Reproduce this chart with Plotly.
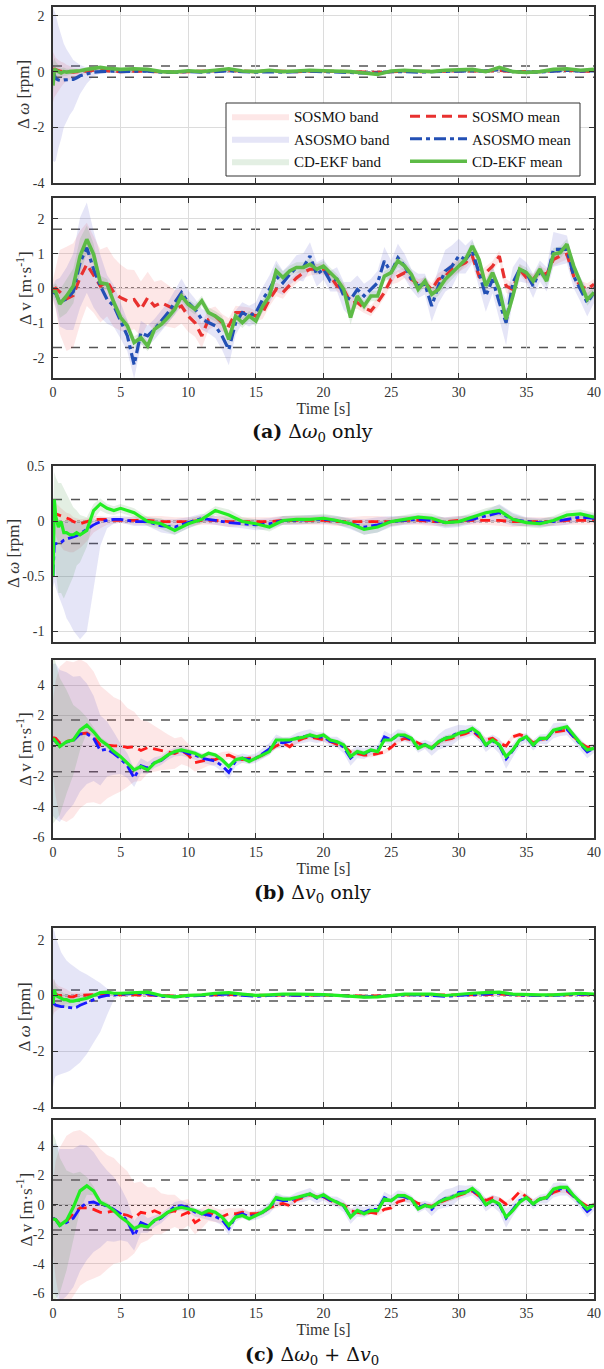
import plotly.graph_objects as go

# ------------------------------------------------------------------ data
# time grids [s]
TIME_W = [0, 0.1, 0.2, 0.4, 0.6, 0.8, 1, 1.25, 1.5, 1.75, 2, 2.5, 3, 3.5, 4, 4.5, 5,
          6, 7, 8, 9, 10, 11, 12, 13, 14, 15, 16, 17, 18, 19, 20, 21, 22, 23, 24, 25,
          26, 27, 28, 29, 30, 31, 32, 33, 34, 35, 36, 37, 38, 39, 40]
TIME_V = [0, 0.2, 0.5, 1, 1.5, 2, 2.5, 3, 3.5, 4,
          4.5, 5, 5.5, 6, 6.5, 7, 7.5, 8, 8.5, 9,
          9.5, 10, 10.5, 11, 11.5, 12, 12.5, 13, 13.5, 14,
          14.5, 15, 15.5, 16, 16.5, 17, 17.5, 18, 18.5, 19,
          19.5, 20, 20.5, 21, 21.5, 22, 22.5, 23, 23.5, 24,
          24.5, 25, 25.5, 26, 26.5, 27, 27.5, 28, 28.5, 29,
          29.5, 30, 30.5, 31, 31.5, 32, 32.5, 33, 33.5, 34,
          34.5, 35, 35.5, 36, 36.5, 37, 37.5, 38, 38.5, 39,
          39.5, 40]

METHODS = ["SOSMO", "ASOSMO", "CD-EKF"]
W_BOUND = 0.2      # dashed bound, speed error [rpm]
V_BOUND = 1.7      # dashed bound, velocity error [m/s]

# ---- (a) delta omega0 only : speed error means
A_W_SOSMO = [0.10, 0.08, 0.05, 0.02, 0.00, 0.02, 0.00, 0.00, -0.02, 0.00, 0.00, 0.02, 0.05, 0.05, 0.03, 0.00, 0.00,
             0.02, 0.02, 0.00, -0.02, 0.00, 0.00, 0.02, 0.05, 0.02, 0.00, 0.02, 0.00, 0.00, 0.02, 0.02,
             0.00, 0.00, -0.02, -0.03, 0.00, 0.02, 0.00, 0.00, 0.02, 0.03, 0.03, 0.02, 0.05, 0.00, 0.00,
             0.00, 0.03, 0.05, 0.02, 0.02]
A_W_ASOSMO = [0.00, -0.15, -0.25, -0.30, -0.32, -0.30, -0.30, -0.30, -0.28, -0.22, -0.15, -0.08, -0.02, 0.00, 0.02, 0.02, 0.00,
              0.02, 0.02, -0.02, -0.03, 0.00, -0.02, 0.00, 0.03, 0.00, -0.02, 0.00, -0.02, 0.00, 0.02, 0.00,
              -0.02, -0.03, -0.05, -0.05, 0.00, 0.00, -0.02, 0.00, 0.00, 0.02, 0.03, 0.02, 0.08, 0.00, -0.02,
              -0.02, 0.02, 0.05, 0.02, 0.03]
A_W_EKF = [-0.50, 0.10, 0.05, 0.00, -0.05, 0.00, -0.02, 0.00, 0.00, 0.02, 0.03, 0.08, 0.12, 0.15, 0.12, 0.10, 0.08,
           0.10, 0.08, 0.00, -0.02, 0.03, 0.00, 0.05, 0.10, 0.02, 0.00, 0.05, 0.00, 0.02, 0.05, 0.03,
           0.02, 0.00, -0.05, -0.10, 0.02, 0.05, 0.02, 0.00, 0.05, 0.05, 0.08, 0.00, 0.15, 0.00, -0.03,
           0.00, 0.08, 0.10, 0.05, 0.08]

# ---- (b) delta v0 only : speed error means
B_W_SOSMO = [0.06, 0.08, 0.07, 0.06, 0.05, 0.04, 0.03, 0.02, 0.00, -0.01, -0.02, 0.00, 0.02, 0.02, 0.02, 0.01, 0.01,
             0.01, 0.01, 0.00, 0.00, 0.00, 0.01, 0.01, 0.00, 0.00, 0.00, 0.00, 0.01, 0.01, 0.01, 0.01,
             0.00, 0.00, 0.00, 0.00, 0.00, 0.01, 0.01, 0.00, 0.00, 0.01, 0.01, 0.01, 0.01, 0.00, 0.00,
             0.00, 0.00, 0.01, 0.01, 0.01]
B_W_ASOSMO = [-0.50, -0.20, -0.20, -0.20, -0.19, -0.17, -0.16, -0.15, -0.14, -0.13, -0.11, -0.07, -0.03, 0.00, 0.01, 0.02, 0.02,
              0.00, 0.00, -0.04, -0.05, -0.01, 0.03, 0.01, -0.01, -0.02, -0.03, -0.02, 0.01, 0.01, 0.02, 0.02,
              0.01, -0.02, -0.05, -0.03, 0.00, 0.01, 0.02, 0.01, -0.01, 0.00, 0.02, 0.05, 0.08, 0.02, 0.00,
              -0.01, 0.00, 0.02, 0.04, 0.03]
B_W_EKF = [-0.50, 0.20, 0.05, -0.05, 0.00, -0.10, -0.10, -0.12, -0.12, -0.10, -0.12, -0.08, 0.10, 0.16, 0.12, 0.10, 0.12,
           0.08, 0.00, -0.02, -0.08, -0.02, 0.02, 0.10, 0.06, 0.00, -0.02, -0.05, 0.01, 0.02, 0.02, 0.03,
           0.01, -0.02, -0.07, -0.05, 0.00, 0.02, 0.04, 0.03, -0.01, 0.00, 0.04, 0.08, 0.10, 0.02, -0.01,
           -0.02, 0.01, 0.06, 0.07, 0.04]

# ---- (c) both : speed error means
C_W_SOSMO = [0.10, 0.10, 0.05, 0.00, 0.00, 0.02, 0.00, -0.05, -0.05, 0.00, 0.00, 0.02, 0.05, 0.05, 0.05, 0.03, 0.02,
             0.02, 0.02, 0.00, -0.02, 0.00, 0.00, 0.02, 0.03, 0.02, 0.00, 0.00, 0.02, 0.00, 0.02, 0.02,
             0.00, 0.00, -0.02, -0.02, 0.00, 0.02, 0.02, 0.00, 0.00, 0.02, 0.03, 0.02, 0.05, 0.02, 0.00,
             0.00, 0.02, 0.03, 0.02, 0.02]
C_W_ASOSMO = [-0.30, -0.30, -0.35, -0.38, -0.40, -0.40, -0.42, -0.45, -0.45, -0.42, -0.35, -0.25, -0.15, -0.05, 0.00, 0.02, 0.05,
              0.08, 0.06, -0.03, -0.05, -0.02, 0.00, 0.04, 0.05, 0.00, -0.03, 0.00, 0.02, 0.00, 0.02, 0.02,
              0.00, -0.03, -0.05, -0.03, 0.00, 0.02, 0.02, 0.00, -0.03, 0.00, 0.03, 0.05, 0.08, 0.03, 0.00,
              0.00, 0.00, 0.03, 0.05, 0.03]
C_W_EKF = [-0.30, 0.20, 0.00, -0.05, -0.10, -0.15, -0.15, -0.20, -0.20, -0.18, -0.15, -0.10, 0.00, 0.10, 0.12, 0.08, 0.08,
           0.10, 0.12, 0.00, -0.05, 0.00, 0.02, 0.08, 0.10, 0.05, 0.00, 0.02, 0.05, 0.05, 0.05, 0.03,
           0.00, -0.03, -0.06, -0.05, 0.00, 0.05, 0.05, 0.05, 0.00, 0.05, 0.08, 0.10, 0.12, 0.05, 0.03,
           0.02, 0.02, 0.05, 0.08, 0.05]

# ---- speed error band extents (above / below mean), transient part t<=5 s
A_W_SOSMO_UP0 = [0.60, 0.50, 0.45, 0.40, 0.35, 0.30, 0.25, 0.20, 0.15, 0.12, 0.10, 0.08, 0.06, 0.05, 0.04, 0.04, 0.04]
A_W_SOSMO_DN0 = [1.20, 1.00, 0.90, 0.70, 0.55, 0.45, 0.35, 0.28, 0.22, 0.18, 0.15, 0.10, 0.07, 0.05, 0.04, 0.04, 0.04]
A_W_ASOSMO_UP0 = [2.30, 2.35, 2.30, 1.95, 1.60, 1.30, 1.10, 0.90, 0.70, 0.55, 0.40, 0.22, 0.12, 0.08, 0.05, 0.05, 0.04]
A_W_ASOSMO_DN0 = [3.20, 3.10, 2.95, 2.45, 2.10, 1.70, 1.50, 1.25, 1.10, 0.90, 0.65, 0.35, 0.15, 0.08, 0.05, 0.05, 0.04]
A_W_EKF_UP0 = [0.80, 0.40, 0.30, 0.22, 0.18, 0.15, 0.12, 0.10, 0.08, 0.07, 0.06, 0.05, 0.05, 0.04, 0.04, 0.04, 0.04]
A_W_EKF_DN0 = [0.30, 0.35, 0.30, 0.25, 0.20, 0.16, 0.13, 0.10, 0.08, 0.07, 0.06, 0.05, 0.05, 0.04, 0.04, 0.04, 0.04]

B_W_SOSMO_UP0 = [0.10, 0.10, 0.10, 0.08, 0.07, 0.06, 0.05, 0.05, 0.04, 0.04, 0.04, 0.03, 0.03, 0.03, 0.02, 0.02, 0.02]
B_W_SOSMO_DN0 = [0.10, 0.15, 0.20, 0.25, 0.28, 0.30, 0.30, 0.30, 0.28, 0.25, 0.22, 0.18, 0.12, 0.08, 0.05, 0.03, 0.02]
B_W_ASOSMO_UP0 = [0.55, 0.25, 0.22, 0.20, 0.19, 0.17, 0.16, 0.15, 0.14, 0.13, 0.11, 0.08, 0.05, 0.04, 0.03, 0.03, 0.03]
B_W_ASOSMO_DN0 = [0.10, 0.35, 0.40, 0.47, 0.55, 0.63, 0.72, 0.78, 0.85, 0.90, 0.96, 0.93, 0.60, 0.22, 0.07, 0.04, 0.03]
B_W_EKF_UP0 = [0.60, 0.25, 0.35, 0.40, 0.35, 0.40, 0.35, 0.30, 0.25, 0.20, 0.18, 0.12, 0.06, 0.05, 0.04, 0.04, 0.04]
B_W_EKF_DN0 = [0.10, 0.50, 0.50, 0.60, 0.65, 0.60, 0.55, 0.45, 0.38, 0.30, 0.25, 0.15, 0.08, 0.06, 0.05, 0.04, 0.04]

C_W_SOSMO_UP0 = [0.50, 0.45, 0.40, 0.35, 0.30, 0.25, 0.22, 0.18, 0.15, 0.12, 0.10, 0.08, 0.06, 0.05, 0.04, 0.04, 0.04]
C_W_SOSMO_DN0 = [0.80, 0.70, 0.60, 0.50, 0.42, 0.35, 0.30, 0.25, 0.20, 0.16, 0.13, 0.10, 0.07, 0.05, 0.04, 0.04, 0.04]
C_W_ASOSMO_UP0 = [2.70, 2.60, 2.45, 2.18, 1.95, 1.80, 1.67, 1.60, 1.50, 1.37, 1.23, 1.00, 0.75, 0.50, 0.25, 0.06, 0.04]
C_W_ASOSMO_DN0 = [3.00, 2.70, 2.55, 2.47, 2.40, 2.38, 2.33, 2.25, 2.15, 2.08, 2.05, 1.85, 1.55, 1.25, 0.70, 0.17, 0.04]
C_W_EKF_UP0 = [0.60, 0.40, 0.35, 0.30, 0.25, 0.22, 0.20, 0.18, 0.15, 0.12, 0.10, 0.08, 0.06, 0.05, 0.04, 0.04, 0.04]
C_W_EKF_DN0 = [0.50, 0.60, 0.45, 0.40, 0.35, 0.30, 0.28, 0.25, 0.22, 0.18, 0.15, 0.10, 0.07, 0.05, 0.04, 0.04, 0.04]

# steady part t = 6..40 s
W_TAIL = [0.04, 0.04, 0.05, 0.04, 0.04, 0.04, 0.04, 0.05, 0.04, 0.04, 0.04, 0.04, 0.04, 0.04, 0.04, 0.04, 0.04, 0.05,
          0.05, 0.04, 0.04, 0.04, 0.04, 0.04, 0.04, 0.04, 0.04, 0.05, 0.05, 0.04, 0.04, 0.04, 0.04, 0.04, 0.04]
B_W_ASOSMO_TAIL = [0.04, 0.04, 0.06, 0.07, 0.05, 0.04, 0.04, 0.04, 0.04, 0.05, 0.05, 0.04, 0.04, 0.04, 0.04, 0.04, 0.05,
                   0.07, 0.07, 0.05, 0.04, 0.04, 0.04, 0.05, 0.05, 0.04, 0.05, 0.08, 0.06, 0.04, 0.04, 0.04, 0.05, 0.04, 0.04]

# ---- velocity error means [m/s]
A_V_SOSMO = [-0.05, 0.00, -0.10, -0.30, -0.20, 0.31, 0.69, 0.40, 0.07, 0.20,
             -0.12, -0.27, -0.36, -0.32, -0.60, -0.27, -0.51, -0.41, -0.51, -0.60,
             -0.51, -0.80, -0.99, -1.37, -0.89, -0.80, -0.99, -1.08, -0.70, -0.70,
             -0.70, -0.80, -0.70, -0.32, -0.03, -0.12, 0.10, 0.30, 0.45, 0.55,
             0.55, 0.55, 0.35, 0.07, -0.03, -0.41, -0.41, -0.56, -0.65, -0.41,
             -0.12, 0.26, 0.35, 0.45, 0.26, 0.12, 0.16, -0.03, 0.26, 0.35,
             0.55, 0.64, 0.74, 0.93, 0.35, 0.45, 0.64, 0.93, 0.07, -0.03,
             0.55, 0.31, 0.26, 0.50, 0.40, 0.83, 0.93, 0.98, 0.35, 0.07,
             -0.03, 0.12]
A_V_ASOSMO = [-0.10, -0.15, -0.40, -0.30, -0.10, 0.74, 1.17, 0.55, 0.07, -0.32,
              -0.51, -0.94, -1.37, -2.20, -1.28, -1.37, -1.18, -0.94, -0.70, -0.41,
              -0.12, -0.41, -0.60, -0.89, -0.99, -1.08, -1.37, -1.76, -0.99, -0.70,
              -0.80, -0.70, -0.32, -0.03, 0.35, 0.16, 0.40, 0.60, 0.60, 0.93,
              0.40, 0.55, 0.21, 0.26, -0.22, -0.32, -0.03, -0.22, -0.03, 0.16,
              0.79, 0.45, 0.88, 0.64, 0.26, 0.07, 0.12, -0.51, 0.07, 0.50,
              0.64, 0.93, 0.83, 1.07, 0.45, -0.22, 0.26, -0.41, -0.99, 0.16,
              0.55, 0.45, 0.07, 0.50, 0.26, 1.12, 1.12, 1.12, 0.35, -0.03,
              -0.41, -0.12]
A_V_EKF = [-0.08, -0.10, -0.45, -0.22, 0.07, 0.93, 1.41, 0.98, 0.16, 0.12,
           -0.41, -0.84, -1.08, -1.56, -1.42, -1.66, -1.18, -1.04, -0.84, -0.60,
           -0.22, -0.46, -0.60, -0.36, -0.70, -0.80, -0.94, -1.47, -0.80, -0.99,
           -0.80, -0.94, -0.51, -0.22, 0.50, 0.31, 0.50, 0.60, 0.60, 0.69,
           0.55, 0.64, 0.45, 0.26, -0.03, -0.84, -0.22, -0.51, -0.22, -0.22,
           0.35, 0.45, 0.79, 0.64, 0.40, -0.03, 0.21, -0.17, -0.03, 0.26,
           0.45, 0.64, 0.83, 1.22, 0.83, 0.07, 0.45, -0.03, -0.89, -0.22,
           0.55, 0.45, 0.21, 0.55, 0.21, 0.98, 1.03, 1.27, 0.64, 0.16,
           -0.32, -0.12]

B_V_SOSMO = [0.55, 0.50, 0.20, 0.30, 0.40, 0.80, 0.85, 0.60, 0.05, 0.05,
             0.00, 0.00, -0.10, -0.05, -0.30, -0.10, -0.20, -0.30, -0.40, -0.50,
             -0.30, -0.60, -1.10, -1.00, -0.90, -0.90, -0.70, -0.60, -0.80, -0.90,
             -0.80, -0.80, -0.60, -0.30, 0.00, 0.20, -0.05, 0.30, 0.50, 0.60,
             0.50, 0.45, 0.30, 0.10, 0.00, -0.40, -0.50, -0.60, -0.60, -0.50,
             -0.40, -0.10, 0.30, 0.50, 0.40, 0.20, 0.00, -0.10, 0.20, 0.40,
             0.50, 0.70, 0.80, 1.00, 0.60, 0.40, 0.50, 0.20, 0.00, 0.60,
             0.75, 0.60, 0.20, 0.40, 0.50, 0.90, 1.00, 1.05, 0.60, 0.20,
             -0.10, 0.00]
B_V_ASOSMO = [0.40, 0.30, 0.00, 0.25, 0.35, 0.80, 0.80, 0.50, -0.30, -0.20,
              -0.50, -0.85, -1.30, -2.10, -1.30, -1.45, -1.10, -0.95, -0.60, -0.40,
              -0.30, -0.50, -0.60, -0.80, -0.90, -1.00, -1.30, -1.75, -1.00, -0.80,
              -0.90, -0.80, -0.50, -0.20, 0.30, 0.20, 0.30, 0.50, 0.60, 0.70,
              0.55, 0.60, 0.30, 0.25, -0.10, -0.80, -0.40, -0.50, -0.30, -0.30,
              0.60, 0.40, 0.70, 0.65, 0.40, -0.10, 0.10, -0.20, 0.25, 0.50,
              0.65, 0.90, 0.95, 1.05, 0.70, 0.05, 0.35, 0.00, -0.85, -0.30,
              0.35, 0.55, 0.05, 0.45, 0.45, 1.00, 1.10, 1.10, 0.60, 0.10,
              -0.40, -0.15]
B_V_EKF = [0.50, 0.30, -0.04, 0.28, 0.39, 1.04, 1.37, 0.93, 0.39, 0.07,
           -0.37, -0.70, -1.13, -1.57, -1.35, -1.57, -1.13, -0.91, -0.59, -0.37,
           -0.26, -0.37, -0.48, -0.70, -0.48, -0.59, -0.91, -1.35, -0.91, -0.80,
           -1.02, -0.80, -0.59, -0.37, 0.39, 0.39, 0.39, 0.50, 0.57, 0.72,
           0.61, 0.72, 0.39, 0.28, 0.07, -0.70, -0.37, -0.48, -0.26, -0.37,
           0.39, 0.39, 0.72, 0.72, 0.50, -0.15, 0.07, -0.15, 0.28, 0.50,
           0.61, 0.83, 0.93, 1.15, 0.83, 0.07, 0.39, 0.07, -0.70, -0.26,
           0.39, 0.61, 0.07, 0.50, 0.50, 1.04, 1.15, 1.26, 0.72, 0.17,
           -0.26, -0.15]

C_V_SOSMO = [-0.90, -1.00, -1.30, -1.10, -0.60, -0.20, -0.20, -0.30, -0.50, -0.50,
             -0.40, -0.60, -0.70, -0.90, -0.50, -0.60, -0.40, -0.60, -0.50, -0.40,
             -0.70, -0.50, -1.20, -0.90, -0.50, -0.70, -0.80, -0.60, -0.60, -0.50,
             -0.60, -0.60, -0.50, -0.20, 0.00, 0.10, -0.05, 0.35, 0.50, 0.70,
             0.55, 0.55, 0.30, 0.10, 0.00, -0.40, -0.50, -0.60, -0.50, -0.60,
             -0.30, -0.20, 0.20, 0.35, 0.35, 0.10, 0.00, -0.10, 0.15, 0.35,
             0.50, 0.65, 0.80, 0.95, 0.60, 0.30, 0.50, 0.40, 0.05, 0.40,
             0.90, 0.55, 0.20, 0.40, 0.50, 0.85, 1.00, 0.95, 0.55, 0.20,
             -0.10, 0.00]
C_V_ASOSMO = [-0.90, -1.00, -1.40, -1.20, -0.90, -0.20, 0.15, 0.20, 0.00, -0.05,
              -0.30, -0.60, -1.10, -2.10, -1.20, -1.40, -1.10, -0.90, -0.50, -0.10,
              -0.05, -0.20, -0.50, -0.60, -0.70, -0.80, -1.00, -1.60, -0.80, -0.60,
              -0.80, -0.70, -0.50, -0.20, 0.40, 0.30, 0.30, 0.50, 0.60, 0.75,
              0.45, 0.60, 0.30, 0.20, -0.10, -0.80, -0.40, -0.50, -0.30, -0.30,
              0.50, 0.30, 0.60, 0.55, 0.35, -0.20, 0.00, -0.30, 0.20, 0.45,
              0.55, 0.85, 0.90, 1.00, 0.65, 0.00, 0.30, 0.00, -0.90, -0.30,
              0.30, 0.50, 0.05, 0.40, 0.45, 1.00, 1.10, 1.05, 0.60, 0.10,
              -0.45, -0.10]
C_V_EKF = [-0.94, -1.00, -1.39, -1.05, -0.16, 0.96, 1.30, 0.96, 0.18, -0.04,
           -0.38, -0.83, -1.16, -1.61, -1.39, -1.50, -1.05, -0.83, -0.49, -0.27,
           -0.16, -0.27, -0.38, -0.60, -0.38, -0.49, -0.83, -1.39, -0.83, -0.72,
           -0.94, -0.72, -0.49, -0.16, 0.51, 0.40, 0.40, 0.51, 0.63, 0.74,
           0.51, 0.69, 0.40, 0.18, -0.04, -0.83, -0.38, -0.60, -0.38, -0.38,
           0.40, 0.29, 0.63, 0.63, 0.40, -0.27, -0.04, -0.16, 0.18, 0.40,
           0.51, 0.74, 0.85, 1.12, 0.74, 0.02, 0.29, 0.07, -0.83, -0.38,
           0.18, 0.51, 0.07, 0.40, 0.51, 1.07, 1.19, 1.19, 0.63, 0.18,
           -0.27, 0.00]

# ---- velocity band half-widths: first part t = 0..14 s
A_V_SOSMO_HW0 = [0.30, 0.60, 1.20, 1.50, 1.50, 1.35, 1.20, 1.10, 1.05, 1.00,
                 1.00, 0.95, 0.90, 0.85, 0.80, 0.75, 0.70, 0.65, 0.60, 0.55,
                 0.50, 0.45, 0.40, 0.35, 0.30, 0.28, 0.25, 0.22, 0.20, 0.18]
A_V_ASOSMO_HW0 = [0.20, 0.40, 0.70, 0.90, 1.10, 1.30, 1.30, 1.10, 0.90, 0.70,
                  0.60, 0.50, 0.45, 0.40, 0.35, 0.30, 0.30, 0.30, 0.30, 0.35,
                  0.40, 0.35, 0.30, 0.30, 0.30, 0.35, 0.40, 0.45, 0.35, 0.30]
A_V_EKF_HW0 = [0.15, 0.25, 0.40, 0.50, 0.50, 0.50, 0.40, 0.30, 0.20, 0.15,
               0.15, 0.15, 0.15, 0.18, 0.15, 0.15, 0.15, 0.15, 0.15, 0.15,
               0.15, 0.15, 0.15, 0.15, 0.15, 0.15, 0.15, 0.18, 0.15, 0.15]
B_V_SOSMO_HW0 = [2.50, 3.80, 5.00, 5.30, 5.10, 4.90, 4.60, 4.30, 3.90, 3.50,
                 3.20, 3.00, 2.60, 2.30, 2.00, 1.70, 1.50, 1.30, 1.15, 1.00,
                 0.90, 0.75, 0.60, 0.50, 0.40, 0.35, 0.30, 0.25, 0.25, 0.20]
B_V_ASOSMO_HW0 = [5.00, 5.10, 5.00, 4.60, 4.20, 3.80, 3.30, 2.80, 2.30, 1.80,
                  1.40, 1.00, 0.80, 0.60, 0.50, 0.40, 0.35, 0.30, 0.30, 0.30,
                  0.35, 0.30, 0.30, 0.30, 0.30, 0.35, 0.40, 0.45, 0.35, 0.30]
B_V_EKF_HW0 = [5.60, 5.20, 4.50, 3.40, 2.30, 1.30, 0.50, 0.30, 0.20, 0.20,
               0.18, 0.15, 0.15, 0.18, 0.15, 0.15, 0.15, 0.15, 0.15, 0.15,
               0.15, 0.15, 0.15, 0.15, 0.15, 0.15, 0.15, 0.18, 0.15, 0.15]
C_V_SOSMO_HW0 = [2.50, 4.00, 5.20, 5.80, 5.60, 5.30, 5.00, 4.70, 4.30, 3.90,
                 3.60, 3.30, 3.00, 2.40, 2.10, 1.80, 1.60, 1.40, 1.20, 1.10,
                 1.00, 0.90, 0.80, 0.70, 0.60, 0.50, 0.45, 0.40, 0.35, 0.30]
C_V_ASOSMO_HW0 = [5.00, 5.20, 5.20, 5.00, 4.70, 4.30, 3.90, 3.40, 2.90, 2.40,
                  2.20, 1.80, 1.40, 1.00, 0.70, 0.50, 0.40, 0.35, 0.30, 0.30,
                  0.35, 0.30, 0.30, 0.30, 0.30, 0.35, 0.40, 0.45, 0.35, 0.30]
C_V_EKF_HW0 = [5.80, 5.40, 4.60, 3.40, 2.30, 1.30, 0.60, 0.30, 0.20, 0.20,
               0.18, 0.15, 0.15, 0.18, 0.15, 0.15, 0.15, 0.15, 0.15, 0.15,
               0.15, 0.15, 0.15, 0.15, 0.15, 0.15, 0.15, 0.18, 0.15, 0.15]
# second part t = 14.5..40 s
V_TAIL_THIN = [0.15, 0.15, 0.18, 0.20, 0.20, 0.18, 0.15, 0.15, 0.15, 0.18,
               0.15, 0.15, 0.15, 0.15, 0.18, 0.20, 0.18, 0.15, 0.15, 0.15,
               0.15, 0.15, 0.18, 0.15, 0.15, 0.15, 0.15, 0.18, 0.18, 0.20,
               0.20, 0.18, 0.15, 0.15, 0.15, 0.18, 0.15, 0.15, 0.20, 0.18,
               0.15, 0.15, 0.15, 0.15, 0.15, 0.18, 0.18, 0.15, 0.15, 0.15,
               0.18, 0.15]
V_TAIL_ASOSMO = [0.30, 0.30, 0.35, 0.40, 0.45, 0.35, 0.30, 0.35, 0.40, 0.40,
                 0.35, 0.30, 0.30, 0.35, 0.40, 0.50, 0.40, 0.35, 0.30, 0.35,
                 0.40, 0.35, 0.40, 0.35, 0.30, 0.35, 0.30, 0.45, 0.50, 0.60,
                 0.60, 0.50, 0.40, 0.35, 0.40, 0.45, 0.40, 0.50, 0.65, 0.45,
                 0.35, 0.30, 0.35, 0.30, 0.35, 0.50, 0.45, 0.40, 0.35, 0.35,
                 0.40, 0.30]

# ---- axis ticks
X_TICKS = [0, 5, 10, 15, 20, 25, 30, 35, 40]
X_TICKTEXT = ["0", "5", "10", "15", "20", "25", "30", "35", "40"]
Y_TICKS_W1 = [-4, -2, 0, 2]
Y_TICKTEXT_W1 = ["-4", "-2", "0", "2"]
Y_TICKS_W2 = [-1, -0.5, 0, 0.5]
Y_TICKTEXT_W2 = ["-1", "-0.5", "0", "0.5"]
Y_TICKS_V1 = [-2, -1, 0, 1, 2]
Y_TICKTEXT_V1 = ["-2", "-1", "0", "1", "2"]
Y_TICKS_V2 = [-6, -4, -2, 0, 2, 4]
Y_TICKTEXT_V2 = ["-6", "-4", "-2", "0", "2", "4"]

# ------------------------------------------------------------------ layout / style
FIG_W, FIG_H = 604, 1369
M_L, M_R = 53, 10
BOX_PX = [(7, 183), (198, 378), (466, 642), (660, 838), (928, 1107), (1120, 1299)]
YTITLE_PX = [23, 24, 13, 24, 24, 24]
Y_RANGES = [[-4, 2.32], [-2.58, 2.6], [-1.095, 0.505], [-6.05, 5.65], [-4, 2.42], [-6.4, 5.78]]

SERIF = "Liberation Serif"
COL_A = ["#E8312F", "#2350B5", "#5DBB46"]
COL_BC = ["#FF1A1A", "#1A1AFF", "#22EE22"]
BAND_FILL = ["rgba(240,70,70,0.13)", "rgba(70,70,200,0.14)", "rgba(70,150,70,0.15)"]
DASHES = ["10px,6px", "12px,4px,4px,4px", "solid"]


def py2paper(py):
    return 1 - py / FIG_H


def px2paper(px):
    return (px - M_L) / (FIG_W - M_L - M_R)


W_TITLE = "Δ <i>ω</i> [rpm]"
V_TITLE = "Δ v [m·s<sup>-1</sup>]"

panels = [
    dict(t=TIME_W, means=[A_W_SOSMO, A_W_ASOSMO, A_W_EKF],
         up=[A_W_SOSMO_UP0 + W_TAIL, A_W_ASOSMO_UP0 + W_TAIL, A_W_EKF_UP0 + W_TAIL],
         dn=[A_W_SOSMO_DN0 + W_TAIL, A_W_ASOSMO_DN0 + W_TAIL, A_W_EKF_DN0 + W_TAIL],
         bound=W_BOUND, ticks=(Y_TICKS_W1, Y_TICKTEXT_W1), title=W_TITLE, colors=COL_A, xlab=False, lw=3.2),
    dict(t=TIME_V, means=[A_V_SOSMO, A_V_ASOSMO, A_V_EKF],
         up=[A_V_SOSMO_HW0 + V_TAIL_THIN, A_V_ASOSMO_HW0 + V_TAIL_ASOSMO, A_V_EKF_HW0 + V_TAIL_THIN],
         dn=[A_V_SOSMO_HW0 + V_TAIL_THIN, A_V_ASOSMO_HW0 + V_TAIL_ASOSMO, A_V_EKF_HW0 + V_TAIL_THIN],
         bound=V_BOUND, ticks=(Y_TICKS_V1, Y_TICKTEXT_V1), title=V_TITLE, colors=COL_A, xlab=True, lw=3.2),
    dict(t=TIME_W, means=[B_W_SOSMO, B_W_ASOSMO, B_W_EKF],
         up=[B_W_SOSMO_UP0 + W_TAIL, B_W_ASOSMO_UP0 + B_W_ASOSMO_TAIL, B_W_EKF_UP0 + W_TAIL],
         dn=[B_W_SOSMO_DN0 + W_TAIL, B_W_ASOSMO_DN0 + B_W_ASOSMO_TAIL, B_W_EKF_DN0 + W_TAIL],
         bound=W_BOUND, ticks=(Y_TICKS_W2, Y_TICKTEXT_W2), title=W_TITLE, colors=COL_BC, xlab=False, lw=2.8),
    dict(t=TIME_V, means=[B_V_SOSMO, B_V_ASOSMO, B_V_EKF],
         up=[B_V_SOSMO_HW0 + V_TAIL_THIN, B_V_ASOSMO_HW0 + V_TAIL_ASOSMO, B_V_EKF_HW0 + V_TAIL_THIN],
         dn=[B_V_SOSMO_HW0 + V_TAIL_THIN, B_V_ASOSMO_HW0 + V_TAIL_ASOSMO, B_V_EKF_HW0 + V_TAIL_THIN],
         bound=V_BOUND, ticks=(Y_TICKS_V2, Y_TICKTEXT_V2), title=V_TITLE, colors=COL_BC, xlab=True, lw=2.8),
    dict(t=TIME_W, means=[C_W_SOSMO, C_W_ASOSMO, C_W_EKF],
         up=[C_W_SOSMO_UP0 + W_TAIL, C_W_ASOSMO_UP0 + W_TAIL, C_W_EKF_UP0 + W_TAIL],
         dn=[C_W_SOSMO_DN0 + W_TAIL, C_W_ASOSMO_DN0 + W_TAIL, C_W_EKF_DN0 + W_TAIL],
         bound=W_BOUND, ticks=(Y_TICKS_W1, Y_TICKTEXT_W1), title=W_TITLE, colors=COL_BC, xlab=False, lw=2.8),
    dict(t=TIME_V, means=[C_V_SOSMO, C_V_ASOSMO, C_V_EKF],
         up=[C_V_SOSMO_HW0 + V_TAIL_THIN, C_V_ASOSMO_HW0 + V_TAIL_ASOSMO, C_V_EKF_HW0 + V_TAIL_THIN],
         dn=[C_V_SOSMO_HW0 + V_TAIL_THIN, C_V_ASOSMO_HW0 + V_TAIL_ASOSMO, C_V_EKF_HW0 + V_TAIL_THIN],
         bound=V_BOUND, ticks=(Y_TICKS_V2, Y_TICKTEXT_V2), title=V_TITLE, colors=COL_BC, xlab=True, lw=2.8),
]

for p in panels:
    for arr in p["means"] + p["up"] + p["dn"]:
        assert len(arr) == len(p["t"]), (len(arr), len(p["t"]))

fig = go.Figure()

AX = dict(showline=True, linecolor="#333333", linewidth=1.5, mirror="ticks", ticks="inside",
          ticklen=5, tickwidth=1.2, tickcolor="#333333", showgrid=True, gridcolor="#DCDCDC",
          gridwidth=1, zeroline=False, automargin=False,
          tickfont=dict(family=SERIF, size=14, color="#333333"))

layout = {}
shapes = []
annotations = []
for i, p in enumerate(panels, start=1):
    sfx = "" if i == 1 else str(i)
    top, bot = BOX_PX[i - 1]
    xa = dict(AX, domain=[0, 1], range=[0, 40], anchor="y" + sfx, ticklabelstandoff=0,
              tickvals=X_TICKS, ticktext=X_TICKTEXT, showticklabels=p["xlab"])
    if p["xlab"]:
        xa["title"] = dict(text="Time [s]", font=dict(family=SERIF, size=16, color="#333333"), standoff=3)
    ya = dict(AX, domain=[py2paper(bot), py2paper(top)], range=Y_RANGES[i - 1], anchor="x" + sfx,
              ticklabelstandoff=4, tickvals=p["ticks"][0], ticktext=p["ticks"][1])
    layout["xaxis" + sfx] = xa
    layout["yaxis" + sfx] = ya
    # y-axis title
    annotations.append(dict(text=p["title"], textangle=-90, xref="paper", yref="paper",
                            x=px2paper(YTITLE_PX[i - 1]), y=py2paper((top + bot) / 2),
                            xanchor="center", yanchor="middle", showarrow=False,
                            font=dict(family=SERIF, size=17, color="#333333")))

    xref, yref = "x" + sfx, "y" + sfx
    t = p["t"]
    # bands
    for k in range(3):
        upper = [m + u for m, u in zip(p["means"][k], p["up"][k])]
        lower = [m - d for m, d in zip(p["means"][k], p["dn"][k])]
        fig.add_trace(go.Scatter(
            x=list(t) + list(t)[::-1], y=upper + lower[::-1], xaxis=xref, yaxis=yref,
            mode="lines", fill="toself", fillcolor=BAND_FILL[k], line=dict(width=0),
            name=METHODS[k] + " band", legend="legend", legendgroup="b" + str(k),
            showlegend=(i == 1), hoverinfo="skip"))
    # means
    for k in range(3):
        fig.add_trace(go.Scatter(
            x=t, y=p["means"][k], xaxis=xref, yaxis=yref, mode="lines",
            line=dict(color=p["colors"][k], width=p["lw"] + (0.4 if k == 2 else 0), dash=DASHES[k]),
            name=METHODS[k] + " mean", legend="legend2", legendgroup="m" + str(k),
            showlegend=(i == 1)))
    # reference lines (bounds and zero)
    for yv, dash, col in [(p["bound"], "dash", "#555555"), (-p["bound"], "dash", "#555555"),
                          (0, "dot", "#000000")]:
        shapes.append(dict(type="line", xref=xref + " domain", x0=0, x1=1, yref=yref, y0=yv, y1=yv,
                           line=dict(color=col, width=1.5, dash=dash), layer="below"))

# legend frame
shapes.append(dict(type="rect", xref="paper", yref="paper",
                   x0=px2paper(226), x1=px2paper(580), y0=py2paper(176), y1=py2paper(103),
                   line=dict(color="#333333", width=1), fillcolor="white", layer="above"))

LEG = dict(xanchor="left", yanchor="top", bgcolor="rgba(0,0,0,0)", borderwidth=0,
           font=dict(family=SERIF, size=15, color="#111111"), itemwidth=57, tracegroupgap=3,
           traceorder="normal", orientation="v")

# captions
CAPTIONS = [("<b>(a)</b> Δ<i>ω</i><sub>0</sub> only", 432),
            ("<b>(b)</b> Δ<i>v</i><sub>0</sub> only", 893),
            ("<b>(c)</b> Δ<i>ω</i><sub>0</sub> + Δ<i>v</i><sub>0</sub>", 1355)]
for txt, py in CAPTIONS:
    annotations.append(dict(text=txt, xref="paper", yref="paper", x=px2paper(312), y=py2paper(py),
                            xanchor="center", yanchor="middle", showarrow=False,
                            font=dict(family="DejaVu Serif", size=19, color="#111111")))

fig.update_layout(
    width=FIG_W, height=FIG_H, margin=dict(l=M_L, r=M_R, t=0, b=0),
    paper_bgcolor="white", plot_bgcolor="white",
    legend=dict(LEG, x=px2paper(227), y=py2paper(100)),
    legend2=dict(LEG, x=px2paper(405), y=py2paper(100)),
    annotations=annotations, shapes=shapes,
    **layout,
)

fig.write_html("out.html", config={"displayModeBar": False},
               post_script="document.body.style.margin='0';")
